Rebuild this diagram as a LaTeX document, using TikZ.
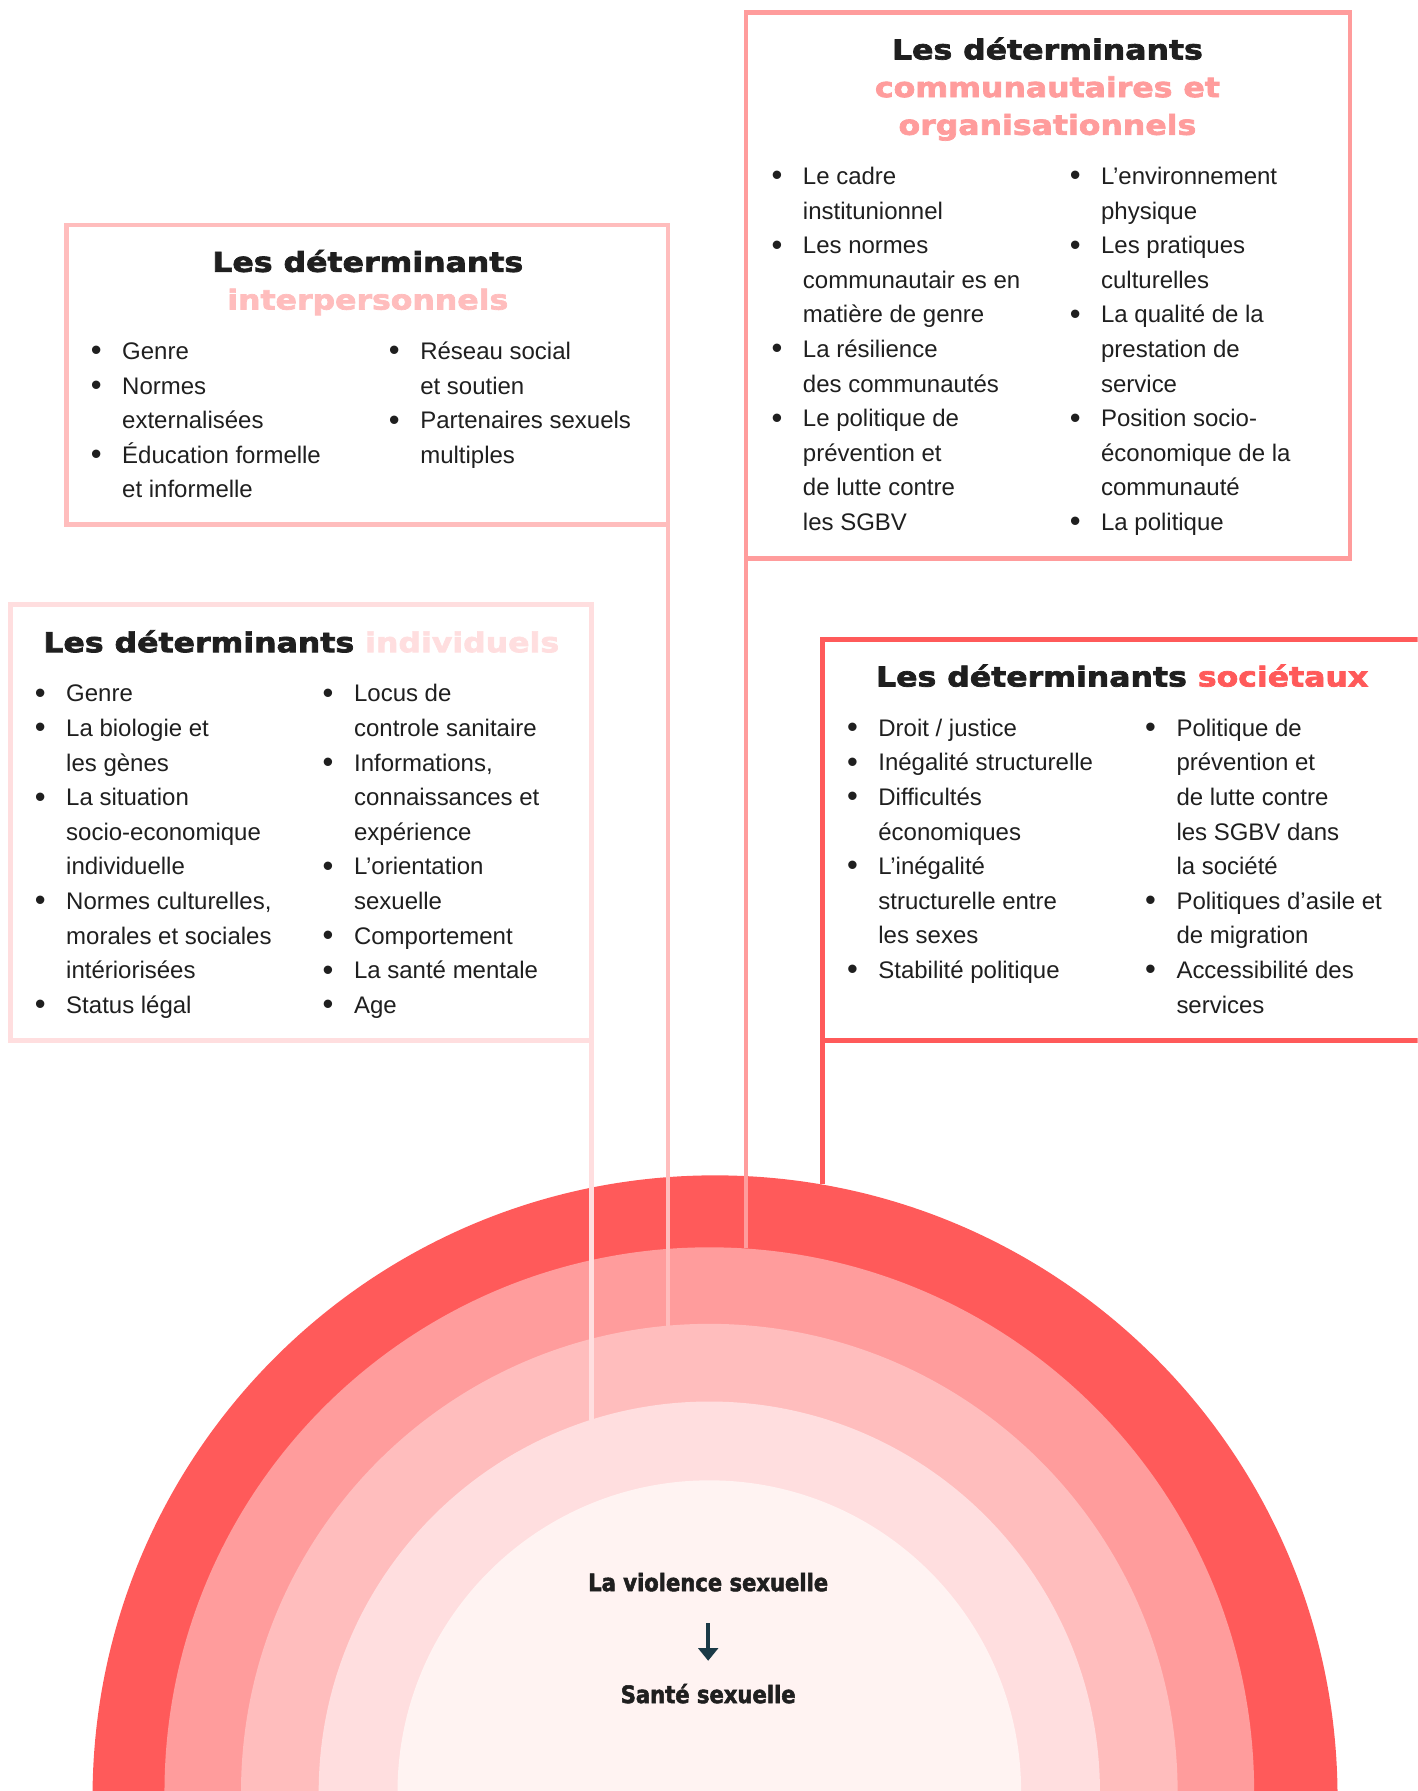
\documentclass[tikz,border=0pt]{standalone}
\usepackage{fontspec}
\usetikzlibrary{arrows.meta}
\setmainfont{Liberation Sans}
\newfontfamily\titlefont{DejaVu Sans}[FakeStretch=1.15, BoldFeatures={FakeBold=2.6}]
\newfontfamily\centerfont{DejaVu Sans}[FakeStretch=0.88, BoldFeatures={FakeBold=2.2}]
\definecolor{cA}{HTML}{FF5A5A}
\definecolor{cB}{HTML}{FF9C9C}
\definecolor{cC}{HTML}{FFBDBD}
\definecolor{cD}{HTML}{FFDEDF}
\definecolor{cE}{HTML}{FFF3F2}
\definecolor{ink}{HTML}{1F1F1F}
\definecolor{arrowc}{HTML}{1B3A47}
\newcommand\bl{\llap{\raisebox{-1.2pt}{\fontsize{27}{30.3}\selectfont\textbullet}\hspace{18pt}}}
\tikzset{
  every node/.style={inner sep=0pt, outer sep=0pt},
  frame/.style={draw=#1, line width=4pt, anchor=north west},
  link/.style={draw=#1, line width=4pt},
  body/.style={anchor=north west, align=left, text=ink, font=\fontsize{21}{30.3}\selectfont},
  ttl/.style={text=ink, font=\titlefont\bfseries\fontsize{24}{33}\selectfont},
  ctr/.style={text=ink, anchor=base, font=\centerfont\bfseries\fontsize{21}{25}\selectfont},
}
\begin{document}
\begin{tikzpicture}[x=1pt,y=-1pt]
\useasboundingbox (0,0) rectangle (1241,1568);
\clip (0,0) rectangle (1241,1568);
% rings
\fill[cA] (626,1574) circle[radius=545];
\fill[cB] (621,1569) circle[radius=477];
\fill[cC] (621,1569) circle[radius=410];
\fill[cD] (621,1569) circle[radius=342];
\fill[cE] (621,1569) circle[radius=273];
% boxes
\node[frame=cB, minimum width=529pt, minimum height=478pt] (com) at (653,11) {};
\node[frame=cC, minimum width=527pt, minimum height=262pt] (inter) at (58,197) {};
\node[frame=cD, minimum width=509pt, minimum height=382pt] (indiv) at (9,529) {};
\node[frame=cA, minimum width=600pt, minimum height=351pt] (soc) at (720,560) {};
% connectors
\coordinate (rB) at (653,1093);
\coordinate (rC) at (585,1161);
\coordinate (rD) at (518,1243);
\coordinate (rA) at (720,1037);
\draw[link=cB] (com.south west) -- (rB);
\draw[link=cC] (inter.south east) -- (rC);
\draw[link=cD] (indiv.south east) -- (rD);
\draw[link=cA] (soc.south west) -- (rA);
% titles
\node[ttl, anchor=base] (comT1) at (917,52) {Les déterminants};
\node[ttl, anchor=base, text=cB] (comT2) at (917,85) {communautaires et};
\node[ttl, anchor=base, text=cB] (comT3) at (917,118) {organisationnels};
\node[ttl, anchor=base] (intT1) at (322,238) {Les déterminants};
\node[ttl, anchor=base, text=cC] (intT2) at (322,271) {interpersonnels};
\node[ttl, anchor=base west] (indT) at (38,571) {Les déterminants \textcolor{cD}{individuels}};
\node[ttl, anchor=base west] (socT) at (767,601) {Les déterminants \textcolor{cA}{sociétaux}};
% communautaires lists
\node[body] (comL) at (703,140.3) {\strut\bl Le cadre\\ institunionnel\\ \bl Les normes\\ communautair es en\\ matière de genre\\ \bl La résilience\\ des communautés\\ \bl Le politique de\\ prévention et\\ de lutte contre\\ les SGBV};
\node[body] (comR) at (964,140.3) {\strut\bl L’environnement\\ physique\\ \bl Les pratiques\\ culturelles\\ \bl La qualité de la\\ prestation de\\ service\\ \bl Position socio-\\ économique de la\\ communauté\\ \bl La politique};
% interpersonnels lists
\node[body] (intL) at (107,293.5) {\strut\bl Genre\\ \bl Normes\\ externalisées\\ \bl Éducation formelle\\ et informelle};
\node[body] (intR) at (368,293.5) {\strut\bl Réseau social\\ et soutien\\ \bl Partenaires sexuels\\ multiples};
% individuels lists
\node[body] (indL) at (58,593.3) {\strut\bl Genre\\ \bl La biologie et\\ les gènes\\ \bl La situation\\ socio-economique\\ individuelle\\ \bl Normes culturelles,\\ morales et sociales\\ intériorisées\\ \bl Status légal};
\node[body] (indR) at (310,593.3) {\strut\bl Locus de\\ controle sanitaire\\ \bl Informations,\\ connaissances et\\ expérience\\ \bl L’orientation\\ sexuelle\\ \bl Comportement\\ \bl La santé mentale\\ \bl Age};
% societaux lists
\node[body] (socL) at (769,623.3) {\strut\bl Droit / justice\\ \bl Inégalité structurelle\\ \bl Difficultés\\ économiques\\ \bl L’inégalité\\ structurelle entre\\ les sexes\\ \bl Stabilité politique};
\node[body] (socR) at (1030,623.3) {\strut\bl Politique de\\ prévention et\\ de lutte contre\\ les SGBV dans\\ la société\\ \bl Politiques d’asile et\\ de migration\\ \bl Accessibilité des\\ services};
% centre
\node[ctr] (viol) at (620,1393) {La violence sexuelle};
\node[ctr] (sante) at (620,1491) {Santé sexuelle};
\draw[arrowc, line width=3pt, -{Triangle[width=17pt,length=11pt]}] ([yshift=-28pt]viol.base) -- ([yshift=37pt]sante.base);
\end{tikzpicture}
\end{document}
